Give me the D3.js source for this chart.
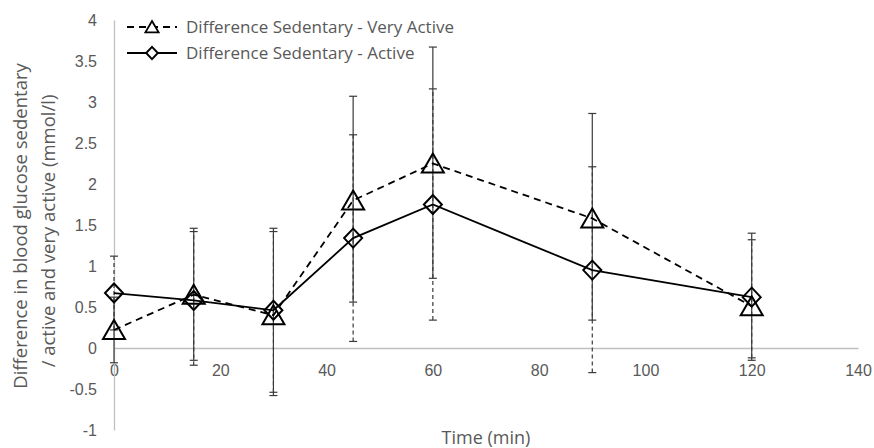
<!DOCTYPE html>
<html lang="en">
<head>
  <meta charset="UTF-8">
  <title>Blood glucose difference</title>
  <script src="https://d3js.org/d3.v7.min.js"></script>
  <style>
    body { margin: 0; background: #fff; }
    svg { font-family: "Open Sans", sans-serif; }
  </style>
</head>
<body>
  <div id="chart"></div>

  <script>
    // time points (min)
    const times = [0, 15, 30, 45, 60, 90, 120];

    // Sedentary - Very Active (triangles, dashed line)
    const veryActiveMean = [0.22, 0.65, 0.40, 1.80, 2.25, 1.58, 0.51];
    const veryActiveHigh = [0.62, 1.46, 1.42, 3.07, 3.67, 2.86, 1.40];
    const veryActiveLow = [-0.18, -0.15, -0.58, 0.56, 0.85, 0.34, -0.15];

    // Sedentary - Active (diamonds, solid line)
    const activeMean = [0.67, 0.58, 0.46, 1.34, 1.75, 0.95, 0.62];
    const activeHigh = [1.12, 1.42, 1.46, 2.60, 3.16, 2.21, 1.32];
    const activeLow = [0.22, -0.21, -0.54, 0.08, 0.34, -0.30, -0.12];

    const xTicks = [0, 20, 40, 60, 80, 100, 120, 140];
    const yTicks = [-1, -0.5, 0, 0.5, 1, 1.5, 2, 2.5, 3, 3.5, 4];

    const width = 874, height = 448;
    const textColor = '#595959';
    const axisColor = '#bfbfbf';

    const svg = d3.select('#chart').append('svg')
      .attr('width', width)
      .attr('height', height);

    const x = d3.scaleLinear().domain([0, 140]).range([114, 858]);
    const y = d3.scaleLinear().domain([-1, 4]).range([430, 20]);

    // axes
    const xAxis = svg.append('g')
      .attr('transform', `translate(0,${y(0)})`)
      .call(d3.axisBottom(x).tickValues(xTicks).tickSize(0).tickPadding(17).tickFormat(d => String(d)));
    const yAxis = svg.append('g')
      .attr('transform', `translate(${x(0)},0)`)
      .call(d3.axisLeft(y).tickValues(yTicks).tickSize(0).tickPadding(17).tickFormat(d => String(d)));

    [xAxis, yAxis].forEach(g => {
      g.select('.domain').attr('stroke', axisColor).attr('stroke-width', 1.3);
      g.selectAll('text').attr('fill', textColor).style('font-size', '16px');
    });

    // axis titles
    svg.append('text')
      .attr('x', (x(0) + x(140)) / 2)
      .attr('y', 444)
      .attr('text-anchor', 'middle')
      .attr('fill', textColor)
      .style('font-size', '18px')
      .text('Time (min)');

    const yTitle = svg.append('text')
      .attr('transform', 'translate(0,226) rotate(-90)')
      .attr('text-anchor', 'middle')
      .attr('fill', textColor)
      .style('font-size', '18.5px');
    yTitle.append('tspan').attr('x', 0).attr('y', 27).text('Difference in blood glucose sedentary');
    yTitle.append('tspan').attr('x', -5).attr('y', 55).text('/ active and very active (mmol/l)');

    const series = [
      { name: 'Difference Sedentary - Very Active', mean: veryActiveMean, high: veryActiveHigh, low: veryActiveLow,
        marker: 'triangle', lineDash: '7,5', barDash: null },
      { name: 'Difference Sedentary - Active', mean: activeMean, high: activeHigh, low: activeLow,
        marker: 'diamond', lineDash: null, barDash: '4,3' }
    ];

    const markerPath = {
      triangle: 'M0,-10 L11,9 L-11,9 Z',
      diamond: 'M0,-9.5 L9,0 L0,9.5 L-9,0 Z'
    };

    // error bars: dashed ones first so the solid ones sit on top
    series.slice().reverse().forEach(s => {
      const g = svg.append('g')
        .attr('stroke', '#3a3a3a')
        .attr('stroke-width', 1.2)
        .attr('fill', 'none');
      const rows = times.map((t, i) => ({ t, lo: s.low[i], hi: s.high[i] }));
      g.selectAll('line.bar').data(rows).enter().append('line')
        .attr('x1', d => x(d.t)).attr('x2', d => x(d.t))
        .attr('y1', d => y(d.lo)).attr('y2', d => y(d.hi))
        .attr('stroke-dasharray', s.barDash);
      ['lo', 'hi'].forEach(k => {
        g.selectAll('line.cap-' + k).data(rows).enter().append('line')
          .attr('x1', d => x(d.t) - 4).attr('x2', d => x(d.t) + 4)
          .attr('y1', d => y(d[k])).attr('y2', d => y(d[k]));
      });
    });

    // series lines and markers
    const line = d3.line().x(d => x(d.t)).y(d => y(d.v));
    series.forEach(s => {
      const pts = times.map((t, i) => ({ t, v: s.mean[i] }));
      svg.append('path')
        .datum(pts)
        .attr('d', line)
        .attr('fill', 'none')
        .attr('stroke', '#000')
        .attr('stroke-width', 1.8)
        .attr('stroke-dasharray', s.lineDash);
      svg.selectAll(null).data(pts).enter().append('path')
        .attr('d', markerPath[s.marker])
        .attr('transform', d => `translate(${x(d.t)},${y(d.v)})`)
        .attr('fill', 'none')
        .attr('stroke', '#000')
        .attr('stroke-width', 2);
    });

    // legend
    const legend = svg.append('g');
    series.forEach((s, i) => {
      const ly = 27 + i * 26;
      legend.append('line')
        .attr('x1', 127).attr('x2', 177)
        .attr('y1', ly).attr('y2', ly)
        .attr('stroke', '#000').attr('stroke-width', 1.8)
        .attr('stroke-dasharray', s.lineDash);
      legend.append('path')
        .attr('d', markerPath[s.marker])
        .attr('transform', `translate(152,${ly}) scale(${s.marker === 'triangle' ? 0.6 : 0.65})`)
        .attr('fill', '#fff')
        .attr('stroke', '#000')
        .attr('stroke-width', 3);
      legend.append('text')
        .attr('x', 186).attr('y', ly)
        .attr('dy', '0.35em')
        .attr('fill', textColor)
        .style('font-size', '17px')
        .text(s.name);
    });
  </script>
</body>
</html>
